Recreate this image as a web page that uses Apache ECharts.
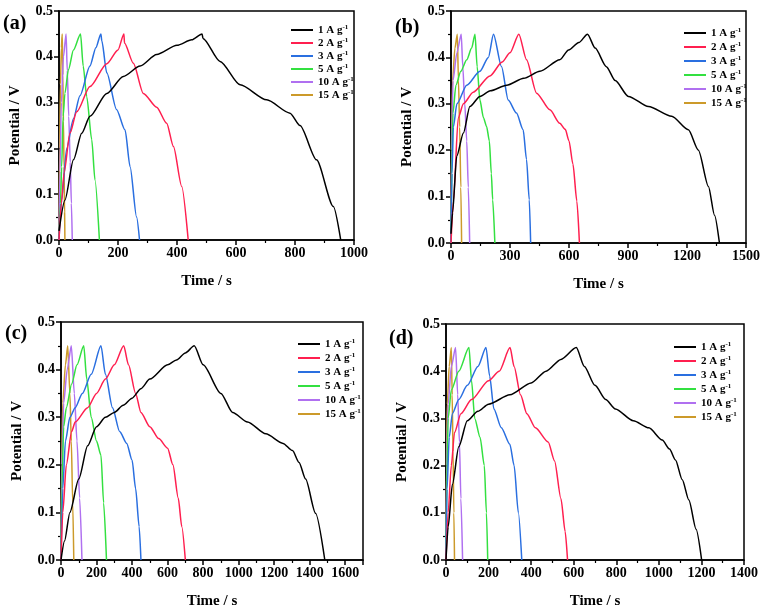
<!DOCTYPE html>
<html><head><meta charset="utf-8">
<script src="https://cdn.jsdelivr.net/npm/echarts@6/dist/echarts.min.js"></script>
<style>html,body{margin:0;padding:0;background:#fff}#c{width:764px;height:612px}</style>
</head><body><div id="c"></div>
<script>
// ---- data ----
const rates = [1, 2, 3, 5, 10, 15];
const panelLabels = ['(a)', '(b)', '(c)', '(d)'];
const xMax = [1000, 1500, 1700, 1400];
const xInterval = [200, 300, 200, 200];
const yMin = 0, yMax = 0.5, yInterval = 0.1;
const xName = 'Time / s';
const yName = 'Potential / V';

// panel (a)
const a1 = [[0,0.02],[20,0.087],[49,0.175],[77,0.233],[105,0.27],[162,0.32],[218,0.357],[275,0.38],[331,0.405],[400,0.425],[450,0.437],[485,0.45],[488,0.44],[546,0.39],[614,0.339],[704,0.306],[783,0.277],[817,0.25],[873,0.175],[930,0.073],[955,0]];
const a2 = [[0,0],[8,0.08],[17,0.146],[37,0.233],[60,0.28],[105,0.335],[162,0.385],[200,0.415],[220,0.45],[222,0.43],[252,0.386],[286,0.32],[331,0.29],[365,0.255],[388,0.204],[416,0.117],[438,0]];
const a3 = [[0,0],[9,0.087],[26,0.2],[49,0.265],[71,0.315],[105,0.38],[125,0.42],[142,0.45],[145,0.435],[162,0.365],[195,0.285],[224,0.24],[241,0.16],[263,0.05],[273,0]];
const a4 = [[0,0],[5,0.08],[9,0.16],[14,0.27],[20,0.32],[32,0.372],[49,0.415],[73,0.45],[82,0.38],[94,0.313],[111,0.219],[122,0.131],[137,0]];
const a5 = [[0,0],[3,0.15],[8,0.3],[15,0.4],[24,0.45],[28,0.37],[33,0.27],[38,0.17],[42,0.08],[45,0]];
const a6 = [[0,0],[2,0.2],[5,0.34],[8,0.42],[11,0.45],[13,0.36],[15,0.26],[17,0.16],[19,0.06],[20,0]];
// panel (b)
const b1 = [[0,0.02],[8,0.065],[29,0.187],[63,0.237],[96,0.294],[147,0.316],[200,0.328],[283,0.34],[370,0.355],[452,0.37],[553,0.395],[598,0.416],[650,0.432],[694,0.45],[733,0.42],[790,0.38],[835,0.35],[902,0.316],[1004,0.294],[1122,0.273],[1207,0.244],[1258,0.2],[1309,0.122],[1340,0.06],[1365,0]];
const b2 = [[0,0],[12,0.09],[37,0.27],[63,0.3],[113,0.325],[198,0.36],[260,0.39],[300,0.41],[345,0.45],[384,0.395],[435,0.323],[503,0.287],[553,0.258],[581,0.245],[600,0.22],[620,0.17],[640,0.09],[653,0]];
const b3 = [[0,0],[5,0.15],[12,0.25],[30,0.3],[80,0.34],[147,0.37],[190,0.4],[216,0.45],[257,0.38],[291,0.308],[333,0.28],[367,0.244],[384,0.18],[398,0.093],[405,0]];
const b4 = [[0,0],[4,0.15],[10,0.28],[25,0.34],[50,0.37],[80,0.395],[105,0.42],[122,0.45],[133,0.38],[147,0.308],[165,0.27],[181,0.251],[195,0.22],[205,0.15],[212,0.093],[223,0]];
const b5 = [[0,0],[3,0.2],[10,0.35],[30,0.41],[52,0.45],[60,0.38],[70,0.3],[80,0.22],[88,0.12],[95,0]];
const b6 = [[0,0],[2,0.2],[8,0.35],[20,0.42],[32,0.45],[38,0.35],[44,0.25],[50,0.12],[54,0]];
// panel (c)
const c1 = [[0,0],[20,0.04],[50,0.1],[100,0.17],[150,0.24],[200,0.28],[250,0.3],[300,0.31],[350,0.325],[400,0.34],[450,0.36],[500,0.38],[600,0.41],[650,0.42],[700,0.435],[750,0.45],[800,0.41],[900,0.35],[966,0.31],[1050,0.29],[1153,0.265],[1250,0.245],[1303,0.23],[1340,0.205],[1377,0.17],[1433,0.098],[1485,0]];
const c2 = [[0,0],[10,0.1],[30,0.2],[60,0.27],[80,0.29],[150,0.32],[200,0.35],[250,0.38],[300,0.41],[353,0.45],[380,0.41],[420,0.35],[450,0.31],[500,0.28],[550,0.255],[600,0.235],[630,0.2],[660,0.13],[680,0.07],[700,0]];
const c3 = [[0,0],[10,0.15],[25,0.25],[50,0.3],[80,0.32],[120,0.35],[170,0.39],[225,0.45],[250,0.39],[290,0.32],[330,0.27],[370,0.245],[400,0.21],[420,0.15],[440,0.07],[450,0]];
const c4 = [[0,0],[5,0.15],[15,0.28],[30,0.32],[60,0.37],[90,0.41],[128,0.45],[145,0.38],[170,0.3],[200,0.25],[225,0.22],[240,0.12],[256,0]];
const c5 = [[0,0],[5,0.2],[15,0.33],[35,0.4],[58,0.45],[75,0.35],[90,0.25],[105,0.13],[118,0]];
const c6 = [[0,0],[3,0.2],[10,0.33],[25,0.41],[38,0.45],[50,0.35],[58,0.25],[66,0.12],[72,0]];
// panel (d)
const d1 = [[0,0],[10,0.07],[30,0.16],[60,0.24],[100,0.295],[150,0.315],[200,0.33],[300,0.35],[400,0.375],[470,0.4],[540,0.425],[612,0.45],[650,0.41],[700,0.37],[750,0.34],[796,0.32],[880,0.295],[953,0.28],[1016,0.254],[1050,0.235],[1078,0.212],[1110,0.17],[1141,0.127],[1175,0.065],[1201,0]];
const d2 = [[0,0],[10,0.1],[25,0.2],[40,0.27],[70,0.31],[120,0.34],[200,0.38],[250,0.4],[301,0.45],[320,0.41],[350,0.35],[380,0.31],[420,0.28],[480,0.25],[510,0.21],[540,0.13],[560,0.06],[571,0]];
const d3 = [[0,0],[5,0.15],[15,0.26],[30,0.31],[60,0.34],[100,0.37],[150,0.41],[188,0.45],[205,0.39],[225,0.32],[260,0.28],[300,0.245],[320,0.2],[340,0.1],[356,0]];
const d4 = [[0,0],[3,0.15],[10,0.3],[25,0.36],[60,0.4],[108,0.45],[120,0.38],[135,0.3],[160,0.26],[180,0.2],[190,0.1],[196,0]];
const d5 = [[0,0],[3,0.2],[10,0.33],[25,0.41],[45,0.45],[55,0.35],[63,0.25],[70,0.13],[78,0]];
const d6 = [[0,0],[2,0.2],[6,0.33],[15,0.41],[25,0.45],[29,0.35],[33,0.23],[37,0.1],[40,0]];

const panels = [[a1,a2,a3,a4,a5,a6],[b1,b2,b3,b4,b5,b6],[c1,c2,c3,c4,c5,c6],[d1,d2,d3,d4,d5,d6]];

// ---- styles / layout ----
const colors = ['#000000','#ff1f4f','#2a6fe0','#33e040','#b070f0','#cc9a2a'];
const FONT = '"Liberation Serif","Times New Roman",serif';
const grids = [
  {left:59, top:11, width:295, height:229},
  {left:451, top:11, width:295, height:232},
  {left:61, top:322, width:302, height:238},
  {left:446, top:324, width:298, height:236}
];
const legendPos = [
  {left:286, top:19, itemGap:1},
  {left:679, top:22, itemGap:2},
  {left:293, top:333, itemGap:2},
  {left:669, top:336, itemGap:2}
];
const labelPos = [[3,14],[395,18],[5,324],[389,329]];

const names = rates.map(r => r + ' A g-1');
const axisCommon = {
  axisLine:{show:true, onZero:false, lineStyle:{color:'#000', width:1.5}},
  axisTick:{show:true, inside:false, length:5, lineStyle:{color:'#000', width:1.5}},
  minorTick:{show:true, splitNumber:2, length:3, lineStyle:{color:'#000', width:1.2}},
  splitLine:{show:false},
  axisLabel:{color:'#000', fontFamily:FONT, fontWeight:'bold', fontSize:14, margin:6},
  nameTextStyle:{color:'#000', fontFamily:FONT, fontWeight:'bold', fontSize:15}
};

const option = {
  animation:false,
  backgroundColor:'#fff',
  grid: grids.map(g => Object.assign({show:true, borderColor:'#000', borderWidth:1.5, containLabel:false}, g)),
  xAxis: grids.map((g,i) => Object.assign({}, axisCommon, {
    type:'value', gridIndex:i, min:0, max:xMax[i], interval:xInterval[i],
    name:xName, nameLocation:'middle', nameGap:34,
    axisLabel:Object.assign({}, axisCommon.axisLabel, {
      showMaxLabel: xMax[i] % xInterval[i] === 0,
      formatter: v => String(v)
    })
  })),
  yAxis: grids.map((g,i) => Object.assign({}, axisCommon, {
    type:'value', gridIndex:i, min:yMin, max:yMax, interval:yInterval,
    name:yName, nameLocation:'middle', nameGap:36,
    axisLabel:Object.assign({}, axisCommon.axisLabel, {formatter:v => v.toFixed(1)})
  })),
  legend: legendPos.map(p => ({
    left:p.left, top:p.top, orient:'vertical', itemGap:p.itemGap,
    itemWidth:22, itemHeight:2, icon:'rect', data:names,
    formatter: n => '{n|' + n.replace(/-1$/, '') + '}{s|-1}',
    textStyle:{color:'#000', fontFamily:FONT, fontWeight:'bold', fontSize:11,
      rich:{
        n:{fontFamily:FONT, fontWeight:'bold', fontSize:11, lineHeight:12, verticalAlign:'bottom'},
        s:{fontFamily:FONT, fontWeight:'bold', fontSize:7, lineHeight:12, verticalAlign:'top', padding:[0,0,4,0]}
      }}
  })),
  graphic: panelLabels.map((t,i) => ({
    type:'text', left:labelPos[i][0], top:labelPos[i][1],
    style:{text:t, font:'bold 20px ' + FONT, fill:'#000'}
  })),
  series: []
};
panels.forEach((arr, pi) => {
  arr.forEach((d, si) => {
    option.series.push({
      type:'line', name:names[si], xAxisIndex:pi, yAxisIndex:pi, data:d,
      symbol:'none', smooth:0.25, smoothMonotone:'x',
      lineStyle:{color:colors[si], width:1.5}, itemStyle:{color:colors[si]},
      z: 10 - si
    });
  });
});
const chart = echarts.init(document.getElementById('c'), null, {renderer:'canvas'});
chart.setOption(option);
</script></body></html>
